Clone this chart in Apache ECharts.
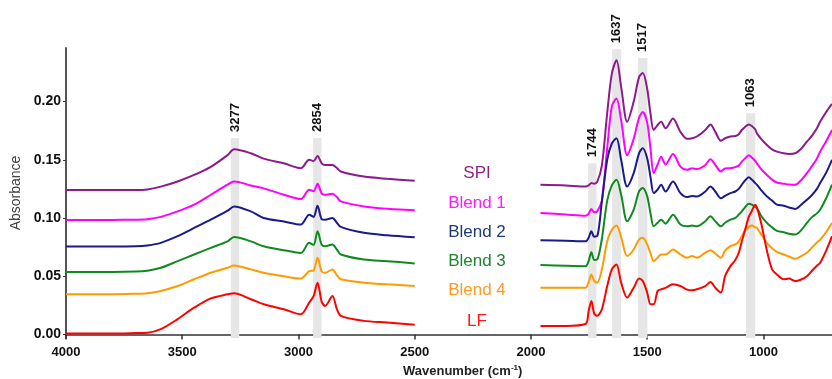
<!DOCTYPE html>
<html>
<head>
<meta charset="utf-8">
<script src="https://cdn.jsdelivr.net/npm/echarts@6/dist/echarts.min.js"></script>
<style>
  html, body { margin: 0; padding: 0; background: #fff; }
  #chart { width: 832px; height: 379px; }
</style>
</head>
<body>
<div id="chart"></div>
<script>
    // wavenumbers (cm-1), left part 4000-2500 and right part 1960-705
    var waveLeft = [4000, 3900, 3800, 3700, 3650, 3592, 3520, 3449, 3377, 3305, 3277, 3205, 3150, 3063,
        2990, 2954, 2935, 2918, 2900, 2885, 2854, 2835, 2818, 2718, 2618, 2500];
    var waveRight = [1959, 1850, 1765, 1752, 1740, 1728, 1715, 1695, 1672, 1652, 1632, 1612, 1586, 1558,
        1535, 1519, 1500, 1486, 1472, 1455, 1440, 1421, 1389, 1357, 1328, 1307, 1286, 1250, 1228, 1207,
        1183, 1165, 1142, 1121, 1106, 1093, 1080, 1063, 1050, 1035, 1028, 1010, 985, 963, 942, 913, 890,
        863, 840, 813, 790, 770, 756, 730, 705];

    var names = ['SPI', 'Blend 1', 'Blend 2', 'Blend 3', 'Blend 4', 'LF'];

    var spiLeft = [0.124, 0.124, 0.124, 0.124, 0.1245, 0.127, 0.1314, 0.137, 0.144, 0.154, 0.159, 0.1556, 0.151, 0.147,
        0.1428, 0.150, 0.149, 0.1533, 0.147, 0.1456, 0.1456, 0.143, 0.140, 0.1356, 0.1337, 0.132];
    var blend1Left = [0.0984, 0.0984, 0.0984, 0.0986, 0.099, 0.101, 0.1057, 0.1115, 0.120, 0.1286, 0.1314, 0.128, 0.1255, 0.120,
        0.1163, 0.1243, 0.123, 0.1294, 0.121, 0.120, 0.1209, 0.118, 0.1143, 0.110, 0.108, 0.1066];
    var blend2Left = [0.0756, 0.0756, 0.0756, 0.0758, 0.0765, 0.0787, 0.0844, 0.0915, 0.0986, 0.1063, 0.110, 0.1057, 0.100, 0.097,
        0.0944, 0.1029, 0.101, 0.1106, 0.099, 0.0986, 0.1001, 0.096, 0.0924, 0.0873, 0.0852, 0.0835];
    var blend3Left = [0.0536, 0.0536, 0.0536, 0.054, 0.0548, 0.0573, 0.063, 0.0687, 0.0744, 0.080, 0.0838, 0.080, 0.0758, 0.0724,
        0.070, 0.0787, 0.077, 0.0886, 0.077, 0.0758, 0.0773, 0.073, 0.0687, 0.0644, 0.063, 0.061];
    var blend4Left = [0.0345, 0.0345, 0.0345, 0.035, 0.0355, 0.0374, 0.0416, 0.0474, 0.053, 0.0573, 0.0593, 0.0559, 0.053, 0.050,
        0.048, 0.0545, 0.055, 0.0659, 0.054, 0.053, 0.0559, 0.051, 0.0474, 0.0445, 0.0431, 0.0416];
    var lfLeft = [0.0008, 0.0008, 0.0008, 0.0012, 0.0015, 0.0046, 0.0132, 0.023, 0.031, 0.0345, 0.0354, 0.0303, 0.026, 0.0217,
        0.0174, 0.0274, 0.033, 0.0445, 0.028, 0.0245, 0.0331, 0.022, 0.016, 0.0117, 0.0103, 0.0083];

    var spiRight = [0.1286, 0.128, 0.127, 0.128, 0.130, 0.1295, 0.131, 0.145, 0.190, 0.224, 0.2354, 0.2126, 0.1826, 0.200,
        0.221, 0.2245, 0.211, 0.190, 0.1756, 0.180, 0.1826, 0.177, 0.1855, 0.174, 0.168, 0.1685, 0.170, 0.1756, 0.1804, 0.174,
        0.1664, 0.1685, 0.170, 0.1704, 0.172, 0.1756, 0.178, 0.1804, 0.179, 0.176, 0.1727, 0.168, 0.1627, 0.159, 0.157, 0.1556, 0.155,
        0.1556, 0.159, 0.1656, 0.171, 0.177, 0.1826, 0.191, 0.198];
    var blend1Right = [0.1044, 0.103, 0.102, 0.1035, 0.1077, 0.105, 0.1057, 0.115, 0.160, 0.196, 0.2026, 0.184, 0.154, 0.168,
        0.186, 0.191, 0.182, 0.160, 0.1385, 0.146, 0.1527, 0.146, 0.155, 0.1442, 0.1414, 0.1428, 0.142, 0.1456, 0.1505, 0.1456,
        0.140, 0.1425, 0.1428, 0.1437, 0.145, 0.1485, 0.151, 0.154, 0.152, 0.149, 0.147, 0.142, 0.137, 0.133, 0.1305, 0.1295, 0.1288,
        0.1286, 0.132, 0.1385, 0.145, 0.151, 0.157, 0.166, 0.1756];
    var blend2Right = [0.081, 0.0805, 0.080, 0.083, 0.0886, 0.084, 0.0844, 0.114, 0.150, 0.164, 0.1685, 0.150, 0.127, 0.1385,
        0.1556, 0.160, 0.1514, 0.1356, 0.1214, 0.1245, 0.1286, 0.1228, 0.1314, 0.1214, 0.118, 0.119, 0.1186, 0.1228, 0.127, 0.1228,
        0.117, 0.119, 0.1214, 0.1228, 0.125, 0.1286, 0.132, 0.135, 0.133, 0.130, 0.1286, 0.124, 0.1186, 0.115, 0.1115, 0.1106, 0.109,
        0.1078, 0.111, 0.1157, 0.120, 0.125, 0.130, 0.139, 0.150];
    var blend3Right = [0.0596, 0.059, 0.0587, 0.063, 0.0707, 0.064, 0.0644, 0.082, 0.115, 0.128, 0.1328, 0.120, 0.0972, 0.1072,
        0.1228, 0.1257, 0.1186, 0.1044, 0.0929, 0.096, 0.0986, 0.0952, 0.1029, 0.0944, 0.0929, 0.0935, 0.0929, 0.0972, 0.1015, 0.0972,
        0.0929, 0.096, 0.0986, 0.1001, 0.103, 0.1057, 0.109, 0.1123, 0.1115, 0.1095, 0.1086, 0.102, 0.0958, 0.092, 0.089, 0.0878, 0.0865,
        0.0858, 0.089, 0.0958, 0.101, 0.104, 0.1072, 0.117, 0.1286];
    var blend4Right = [0.0402, 0.0402, 0.0402, 0.045, 0.0516, 0.046, 0.0445, 0.0559, 0.080, 0.090, 0.0935, 0.0835, 0.0673, 0.073,
        0.0815, 0.083, 0.0773, 0.070, 0.063, 0.066, 0.0687, 0.0687, 0.073, 0.0687, 0.0659, 0.0673, 0.0659, 0.0702, 0.0724, 0.0696,
        0.0659, 0.072, 0.0758, 0.0773, 0.080, 0.0844, 0.089, 0.0924, 0.0935, 0.092, 0.0915, 0.086, 0.0787, 0.074, 0.071, 0.0687, 0.067,
        0.065, 0.067, 0.0702, 0.075, 0.079, 0.0815, 0.088, 0.0958];
    var lfRight = [0.0074, 0.0074, 0.009, 0.020, 0.0288, 0.018, 0.016, 0.0217, 0.0416, 0.0559, 0.0602, 0.0445, 0.0317, 0.0402,
        0.048, 0.0459, 0.036, 0.026, 0.026, 0.0374, 0.0388, 0.040, 0.0431, 0.0416, 0.0385, 0.038, 0.0388, 0.0416, 0.045, 0.0402,
        0.036, 0.050, 0.0587, 0.064, 0.0702, 0.080, 0.089, 0.101, 0.106, 0.1115, 0.109, 0.096, 0.072, 0.056, 0.0516, 0.0474, 0.048,
        0.0459, 0.047, 0.050, 0.055, 0.059, 0.0616, 0.072, 0.0844];

    var leftValues = [spiLeft, blend1Left, blend2Left, blend3Left, blend4Left, lfLeft];
    var rightValues = [spiRight, blend1Right, blend2Right, blend3Right, blend4Right, lfRight];

    // highlighted peaks (grey bands)
    var peakLabels = ['3277', '2854', '1744', '1637', '1517', '1063'];
    var peakFrom = [3291, 2937, 1754, 1651, 1539, 1075];
    var peakTo = [3255, 2901, 1718, 1612, 1499, 1035];
    var peakTop = [0.1687, 0.1687, 0.147, 0.245, 0.2375, 0.190];

    var yTicks = [0, 0.05, 0.10, 0.15, 0.20];
    var xTicks = [1000, 1500, 2000, 2500, 3000, 3500, 4000];

    var lineColors = ['#8B1A8B', '#FF00FF', '#1A1A8C', '#0F8A1F', '#FF9A00', '#FF0000'];
    var textColors = ['#8E2387', '#FF19FF', '#1F3A78', '#1E8430', '#FF9A22', '#FF1A1A'];

    var yMin = -0.003, yMax = 0.246;
    var font = "'Liberation Sans', Arial, sans-serif";

    var chart = echarts.init(document.getElementById('chart'), null, {renderer: 'canvas'});

    var series = [];
    // grey bands behind the spectra
    var areas = [];
    for (var k = 0; k < peakLabels.length; k++) {
        areas.push([
            {name: peakLabels[k], xAxis: peakFrom[k], yAxis: yMin},
            {xAxis: peakTo[k], yAxis: peakTop[k]}
        ]);
    }
    series.push({
        type: 'line',
        data: [],
        z: 1,
        silent: true,
        clip: false,
        markArea: {
            silent: true,
            itemStyle: {color: '#e6e6e6'},
            label: {
                show: true,
                position: 'top',
                rotate: 90,
                align: 'left',
                verticalAlign: 'middle',
                distance: 6,
                color: '#111',
                fontWeight: 'bold',
                fontSize: 13,
                fontFamily: font
            },
            data: areas
        }
    });

    for (var s = 0; s < names.length; s++) {
        var pts = [];
        for (var i = 0; i < waveLeft.length; i++) pts.push([waveLeft[i], leftValues[s][i]]);
        pts.push([2250, null]);
        for (var j = 0; j < waveRight.length; j++) pts.push([waveRight[j], rightValues[s][j]]);
        series.push({
            name: names[s],
            type: 'line',
            data: pts,
            z: 3,
            smooth: 0.3,
            showSymbol: false,
            connectNulls: false,
            lineStyle: {color: lineColors[s], width: 2},
            itemStyle: {color: lineColors[s]}
        });
    }

    // coloured names in the middle
    var legendY = [173, 203, 232, 261, 290, 321];
    var graphics = [];
    for (var g = 0; g < names.length; g++) {
        graphics.push({
            type: 'text',
            x: 477,
            y: legendY[g],
            style: {
                text: names[g],
                fill: textColors[g],
                font: '17px ' + font,
                textAlign: 'center',
                textVerticalAlign: 'middle'
            }
        });
    }
    graphics.push({
        type: 'text',
        x: 403,
        y: 364,
        style: {
            text: 'Wavenumber (cm{s|-1})',
            fill: '#222',
            font: 'bold 13px ' + font,
            rich: {s: {fontSize: 8, fontWeight: 'bold', verticalAlign: 'top', padding: [0, 0, 6, 0], fill: '#222'}}
        }
    });

    var option = {
        backgroundColor: '#fff',
        animation: false,
        grid: {left: 66, right: 0, top: 48, bottom: 41, containLabel: false},
        xAxis: {
            type: 'value',
            inverse: true,
            min: 705,
            max: 4000,
            axisLine: {show: true, lineStyle: {color: '#333', width: 1.5}},
            axisTick: {show: true, length: 5, customValues: xTicks, lineStyle: {color: '#333', width: 1.5}},
            axisLabel: {
                customValues: xTicks,
                formatter: function (v) { return String(v); },
                color: '#111', fontWeight: 'bold', fontSize: 13, fontFamily: font, margin: 8
            },
            splitLine: {show: false}
        },
        yAxis: {
            type: 'value',
            min: yMin,
            max: yMax,
            name: 'Absorbance',
            nameLocation: 'middle',
            nameGap: 43,
            nameTextStyle: {color: '#404040', fontSize: 14, fontFamily: font},
            axisLine: {show: true, lineStyle: {color: '#555', width: 2}},
            axisTick: {show: true, length: 3, customValues: yTicks, lineStyle: {color: '#333'}},
            axisLabel: {
                customValues: yTicks,
                formatter: function (v) { return v.toFixed(2); },
                color: '#111', fontWeight: 'bold', fontSize: 14, fontFamily: font, margin: 5
            },
            splitLine: {show: false}
        },
        graphic: graphics,
        series: series
    };

    chart.setOption(option);
</script>
</body>
</html>
